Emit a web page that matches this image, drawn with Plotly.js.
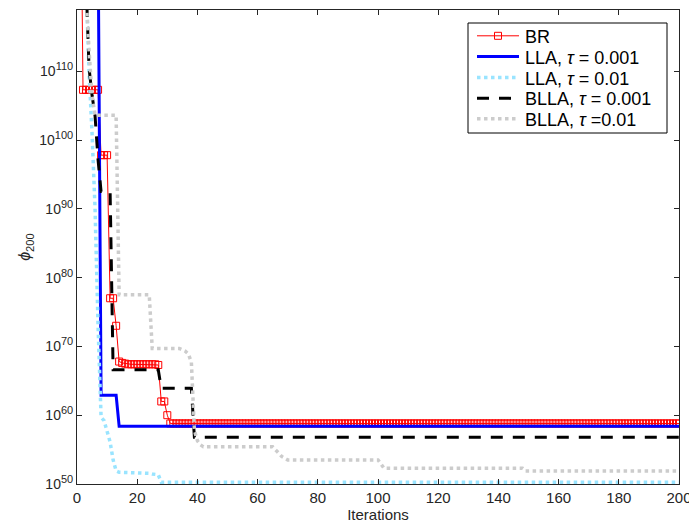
<!DOCTYPE html>
<html>
<head>
<meta charset="utf-8">
<script src="https://cdn.plot.ly/plotly-3.0.1.min.js"></script>
<style>
  html, body { margin: 0; padding: 0; background: #ffffff; }
  #chart { width: 689px; height: 524px; }
</style>
</head>
<body>
<div id="chart"></div>
<script>
// Objective value phi_200 per iteration, stored as log10 values.

// BR: one value per iteration, 1..200
const brIter = Array.from({length: 200}, (_, i) => i + 1);
const brLog = [
  150,
  107.3, 107.3, 107.3, 107.3, 107.3, 107.3,
  97.8, 97.8, 97.8,
  77.0, 77.0,
  73.0,
  67.8, 67.6, 67.5,
  67.4, 67.4, 67.4, 67.4, 67.4, 67.4, 67.4, 67.4, 67.4, 67.4,
  67.3,
  62.0, 62.0,
  60.0,
  58.8, 58.8, 58.8, 58.8, 58.8, 58.8, 58.8, 58.8, 58.8, 58.8,
  58.8, 58.8, 58.8, 58.8, 58.8, 58.8, 58.8, 58.8, 58.8, 58.8,
  58.8, 58.8, 58.8, 58.8, 58.8, 58.8, 58.8, 58.8, 58.8, 58.8,
  58.8, 58.8, 58.8, 58.8, 58.8, 58.8, 58.8, 58.8, 58.8, 58.8,
  58.8, 58.8, 58.8, 58.8, 58.8, 58.8, 58.8, 58.8, 58.8, 58.8,
  58.8, 58.8, 58.8, 58.8, 58.8, 58.8, 58.8, 58.8, 58.8, 58.8,
  58.8, 58.8, 58.8, 58.8, 58.8, 58.8, 58.8, 58.8, 58.8, 58.8,
  58.8, 58.8, 58.8, 58.8, 58.8, 58.8, 58.8, 58.8, 58.8, 58.8,
  58.8, 58.8, 58.8, 58.8, 58.8, 58.8, 58.8, 58.8, 58.8, 58.8,
  58.8, 58.8, 58.8, 58.8, 58.8, 58.8, 58.8, 58.8, 58.8, 58.8,
  58.8, 58.8, 58.8, 58.8, 58.8, 58.8, 58.8, 58.8, 58.8, 58.8,
  58.8, 58.8, 58.8, 58.8, 58.8, 58.8, 58.8, 58.8, 58.8, 58.8,
  58.8, 58.8, 58.8, 58.8, 58.8, 58.8, 58.8, 58.8, 58.8, 58.8,
  58.8, 58.8, 58.8, 58.8, 58.8, 58.8, 58.8, 58.8, 58.8, 58.8,
  58.8, 58.8, 58.8, 58.8, 58.8, 58.8, 58.8, 58.8, 58.8, 58.8,
  58.8, 58.8, 58.8, 58.8, 58.8, 58.8, 58.8, 58.8, 58.8, 58.8,
  58.8, 58.8, 58.8, 58.8, 58.8, 58.8, 58.8, 58.8, 58.8, 58.8
];

// LLA, tau = 0.001 (iterations where the value changes)
const llaFineIter = [1, 7, 8, 13, 14, 200];
const llaFineLog  = [150, 130, 62.9, 62.9, 58.4, 58.4];

// LLA, tau = 0.01
const llaCoarseIter = [1, 3, 4, 5, 6, 7, 8, 9, 10, 11, 12, 13, 14, 22, 23, 24, 25, 26, 27, 28, 200];
const llaCoarseLog  = [150, 121, 110, 101, 90, 73, 59.7, 59.2, 57.8, 56.1, 53.5, 51.9, 51.7, 51.65, 51.55, 51.55, 51.45, 51.45, 51.35, 50.25, 50.25];

// BLLA, tau = 0.001
const bllaFineIter = [1, 3, 4, 5, 6, 7, 8, 11, 12, 27, 28, 38, 39, 200];
const bllaFineLog  = [148.4, 121, 110.5, 106.5, 103.5, 97.1, 92.5, 92.5, 66.6, 66.6, 63.9, 63.9, 56.8, 56.8];

// BLLA, tau = 0.01
const bllaCoarseIter = [1, 3, 4, 5, 6, 13, 14, 24, 25, 34, 35, 36, 37, 38, 39, 40, 41, 42, 65, 66, 67, 68, 69, 70, 100, 101, 102, 148, 149, 200];
const bllaCoarseLog  = [150, 121, 113, 106.5, 103.6, 103.6, 77.5, 77.5, 69.7, 69.7, 69.5, 69.3, 68.9, 67.7, 57.8, 56.3, 55.7, 55.4, 55.4, 55.0, 54.5, 54.0, 53.8, 53.5, 53.5, 52.9, 52.3, 52.3, 51.9, 51.9];

const seriesNames = [
  'BR',
  'LLA, <i>τ</i> = 0.001',
  'LLA, <i>τ</i> = 0.01',
  'BLLA, <i>τ</i> = 0.001',
  'BLLA, <i>τ</i> =0.01'
];

// y tick marks (decades)
const yTickExp = [50, 60, 70, 80, 90, 100, 110];
const yTickText = yTickExp.map(e => '10<sup><span style="font-size:11px">' + e + '</span></sup>');
const xTicks = [0, 20, 40, 60, 80, 100, 120, 140, 160, 180, 200];

const pow10 = arr => arr.map(e => Math.pow(10, e));

// line styles, shared by the traces and the legend samples
const styles = [
  {color: '#ff0000', width: 1},
  {color: '#0000ff', width: 3},
  {color: 'rgb(153,228,255)', width: 3.5, dash: '3.5px,3.5px'},
  {color: '#000000', width: 3, dash: '12px,10px'},
  {color: 'rgb(204,204,204)', width: 3.5, dash: '3.5px,3.5px'}
];

const traces = [
  {
    x: brIter, y: pow10(brLog), name: seriesNames[0],
    type: 'scatter', mode: 'lines+markers', line: styles[0],
    marker: {symbol: 'square-open', size: 7, color: '#ff0000', line: {width: 1, color: '#ff0000'}}
  },
  {x: llaFineIter, y: pow10(llaFineLog), name: seriesNames[1], type: 'scatter', mode: 'lines', line: styles[1]},
  {x: llaCoarseIter, y: pow10(llaCoarseLog), name: seriesNames[2], type: 'scatter', mode: 'lines', line: styles[2]},
  {x: bllaFineIter, y: pow10(bllaFineLog), name: seriesNames[3], type: 'scatter', mode: 'lines', line: styles[3]},
  {x: bllaCoarseIter, y: pow10(bllaCoarseLog), name: seriesNames[4], type: 'scatter', mode: 'lines', line: styles[4]}
];

const axisColor = '#262626';
const fontFamily = '"Liberation Sans", Arial, Helvetica, sans-serif';

// Plot area in pixels and helpers to place the legend box in paper units
const W = 689, H = 524;
const M = {l: 77, r: 10, t: 10, b: 40};
const plotW = W - M.l - M.r, plotH = H - M.t - M.b;
const px = v => (v - M.l) / plotW;
const py = v => (H - M.b - v) / plotH;

// Legend: framed box in the upper right, compact rows
const legBox = {x0: 468, x1: 667, y0: 23, y1: 133};
const legRowY = [35.8, 56.6, 77.6, 98.3, 118.8];
const legSample = {x0: 477, x1: 519};
const legTextX = 523;

const shapes = [{
  type: 'rect', xref: 'paper', yref: 'paper', layer: 'above',
  x0: px(legBox.x0), x1: px(legBox.x1), y0: py(legBox.y1), y1: py(legBox.y0),
  fillcolor: '#ffffff', line: {color: '#000000', width: 1}
}];
const annotations = [];
styles.forEach((st, i) => {
  shapes.push({
    type: 'line', xref: 'paper', yref: 'paper', layer: 'above',
    x0: px(legSample.x0), x1: px(legSample.x1), y0: py(legRowY[i]), y1: py(legRowY[i]),
    line: {color: st.color, width: st.width, dash: st.dash || 'solid'}
  });
  annotations.push({
    xref: 'paper', yref: 'paper', x: px(legTextX), y: py(legRowY[i] + 1),
    xanchor: 'left', yanchor: 'middle', showarrow: false,
    text: seriesNames[i], font: {size: 18, color: '#000000'}
  });
});
// square marker on the BR sample
const mid = (legSample.x0 + legSample.x1) / 2;
shapes.push({
  type: 'rect', xref: 'paper', yref: 'paper', layer: 'above',
  x0: px(mid - 3.5), x1: px(mid + 3.5), y0: py(legRowY[0] + 3.5), y1: py(legRowY[0] - 3.5),
  fillcolor: 'rgba(0,0,0,0)', line: {color: '#ff0000', width: 1}
});

const layout = {
  width: W, height: H,
  margin: {l: M.l, r: M.r, t: M.t, b: M.b, pad: 0},
  paper_bgcolor: '#ffffff', plot_bgcolor: '#ffffff',
  font: {family: fontFamily, size: 15, color: axisColor},
  showlegend: false,
  xaxis: {
    range: [0, 200],
    tickvals: xTicks,
    ticks: 'inside', ticklen: 5, tickcolor: axisColor,
    showline: true, linecolor: axisColor, linewidth: 1, mirror: 'ticks',
    showgrid: false, zeroline: false, ticklabeloverflow: 'allow',
    tickfont: {size: 15, color: axisColor},
    title: {text: 'Iterations', font: {size: 15, color: axisColor}, standoff: 0}
  },
  yaxis: {
    type: 'log',
    range: [50, 118.9],
    tickvals: pow10(yTickExp), ticktext: yTickText,
    ticks: 'inside', ticklen: 5, tickcolor: axisColor,
    showline: true, linecolor: axisColor, linewidth: 1, mirror: 'ticks',
    showgrid: false, zeroline: false,
    tickfont: {size: 14, color: axisColor},
    title: {text: '<i>ϕ</i><sub>200</sub>', font: {size: 16, color: axisColor}, standoff: 4}
  },
  shapes: shapes,
  annotations: annotations
};

Plotly.newPlot('chart', traces, layout, {displayModeBar: false, staticPlot: true});
</script>
</body>
</html>
